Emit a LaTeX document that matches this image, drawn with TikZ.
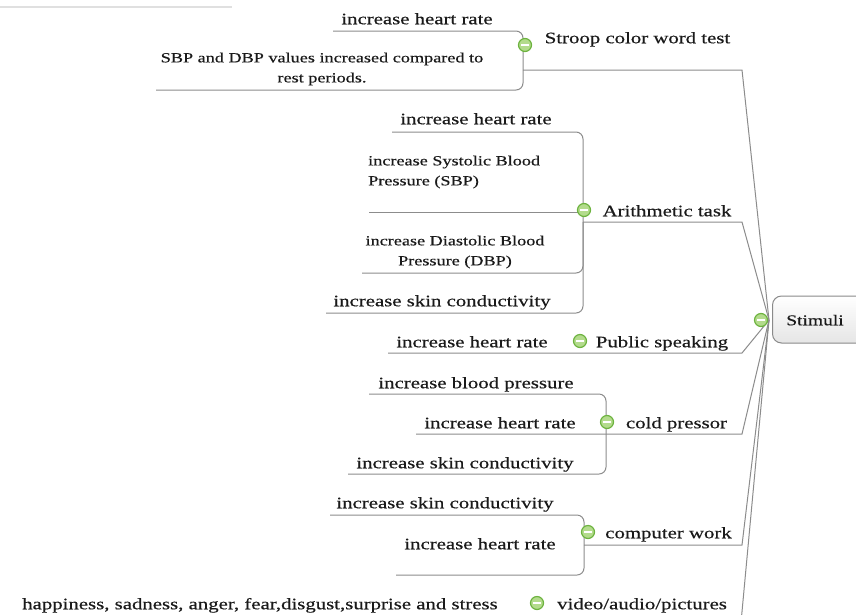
\documentclass[tikz,border=0pt]{standalone}
\usepackage{fontspec}
\setmainfont[FakeStretch=1.3,FakeBold=0.4]{Liberation Serif}
\definecolor{linec}{HTML}{8C8C8C}
\definecolor{txt}{HTML}{1A1A1A}
\definecolor{tgb}{HTML}{6DB33F}
\definecolor{tgf}{HTML}{B3DB8C}
\definecolor{tgd}{HTML}{5E8F45}
\definecolor{boxb}{HTML}{8A8A8A}
\begin{document}
\begin{tikzpicture}[x=1pt,y=-1pt,
  big/.style={font=\fontsize{16}{19}\selectfont, inner sep=0pt, text=txt, text height=12.5pt, text depth=2pt},
  small/.style={font=\fontsize{14}{20}\selectfont, inner sep=0pt, text=txt},
  conn/.style={draw=linec, line width=1pt, rounded corners=7pt},
  branch/.style={draw=linec, line width=1pt},
  toggle/.style={circle, draw=tgb, line width=1.2pt, fill=tgf, minimum size=13pt, inner sep=0pt,
     path picture={\draw[tgd, line width=2.8pt] ([xshift=-4.2pt]path picture bounding box.center) -- ([xshift=4.2pt]path picture bounding box.center);
                   \draw[white, line width=1.4pt] ([xshift=-3.6pt]path picture bounding box.center) -- ([xshift=3.6pt]path picture bounding box.center);}},
  stimbox/.style={draw=boxb, line width=1pt, rounded corners=9pt, top color=white, bottom color=black!10, minimum width=98pt, minimum height=47pt, inner sep=0pt}
]
\useasboundingbox (0,0) rectangle (856,614);
\clip (0,0) rectangle (856,614);
\fill[white] (0,0) rectangle (856,614);
% faint header line
\coordinate (hl) at (0,7); \coordinate (hr) at (232,7);
\draw[black!12, line width=1.5pt] (hl) -- (hr);

% central topic
\node[stimbox, anchor=west] (stim) at (772,319.5) {};
\node[big, font=\fontsize{15}{18}\selectfont] (stimt) at (815,320) {Stimuli};
\coordinate (hub) at (769,320);

% ---- Stroop
\node[big] (s1) at (417,19) {increase heart rate};
\node[small, align=center] (s2) at (322,69) {SBP and DBP values increased compared to\\rest periods.};
\node[big] (sl) at (637.5,38) {Stroop color word test};
\coordinate (s1u) at (333,31); \coordinate (s2u) at (156,90);
\coordinate (sj) at (523,70); \coordinate (se) at (742,70);
\draw[conn] (s1u) -| (sj);
\draw[conn] (s2u) -| (sj);
\draw[branch] (sj) -- (se) -- (hub);

% ---- Arithmetic
\node[big] (a1) at (476,119) {increase heart rate};
\node[small, align=left, anchor=west] (a2) at (368,172) {increase Systolic Blood\\Pressure (SBP)};
\node[small, align=center] (a3) at (455,252) {increase Diastolic Blood\\Pressure (DBP)};
\node[big] (a4) at (442,301) {increase skin conductivity};
\node[big] (al) at (667,211) {Arithmetic task};
\coordinate (a1u) at (392,132); \coordinate (a2u) at (369,212);
\coordinate (a3u) at (362,273); \coordinate (a4u) at (326,313);
\coordinate (aj) at (583,222); \coordinate (ae) at (742,222);
\draw[conn] (a1u) -| (aj);
\draw[branch] (a2u) -- (a2u -| aj);
\draw[conn] (a3u) -| (aj);
\draw[conn] (a4u) -| (aj);
\draw[branch] (aj) -- (ae) -- (hub);

% ---- Public speaking
\node[big] (p1) at (472,342) {increase heart rate};
\node[big] (pl) at (662,342) {Public speaking};
\coordinate (p1u) at (388,353); \coordinate (pe) at (742,353);
\draw[branch] (p1u) -- (pe) -- (hub);

% ---- cold pressor
\node[big] (c1) at (476,383) {increase blood pressure};
\node[big] (c2) at (500,423) {increase heart rate};
\node[big] (c3) at (465,463) {increase skin conductivity};
\node[big] (cl) at (676.5,423) {cold pressor};
\coordinate (c1u) at (369,394); \coordinate (c2u) at (416,434);
\coordinate (c3u) at (348,474);
\coordinate (cj) at (606,434); \coordinate (ce) at (742,434);
\draw[conn] (c1u) -| (cj);
\draw[conn] (c3u) -| (cj);
\draw[branch] (c2u) -- (cj) -- (ce) -- (hub);

% ---- computer work
\node[big] (w1) at (445,503) {increase skin conductivity};
\node[big] (w2) at (480,544) {increase heart rate};
\node[big] (wl) at (668.5,533) {computer work};
\coordinate (w1u) at (330,515); \coordinate (w2u) at (396,575);
\coordinate (wj) at (584,545); \coordinate (we) at (742,545);
\draw[conn] (w1u) -| (wj);
\draw[conn] (w2u) -| (wj);
\draw[branch] (wj) -- (we) -- (hub);

% ---- video/audio/pictures
\node[big] (v1) at (260,604) {happiness, sadness, anger, fear,disgust,surprise and stress};
\node[big] (vl) at (642,604) {video/audio/pictures};
\coordinate (v1u) at (12,617); \coordinate (ve) at (741.5,617);
\draw[branch] (v1u) -- (ve) -- (hub);

% toggles
\node[toggle] (ts) at (525,45) {};
\node[toggle] (ta) at (584,210) {};
\node[toggle] (tp) at (580,341) {};
\node[toggle] (tc) at (607,422) {};
\node[toggle] (tw) at (588,532) {};
\node[toggle] (tv) at (537,603) {};
\node[toggle] (tst) at (761,320) {};
\end{tikzpicture}
\end{document}
